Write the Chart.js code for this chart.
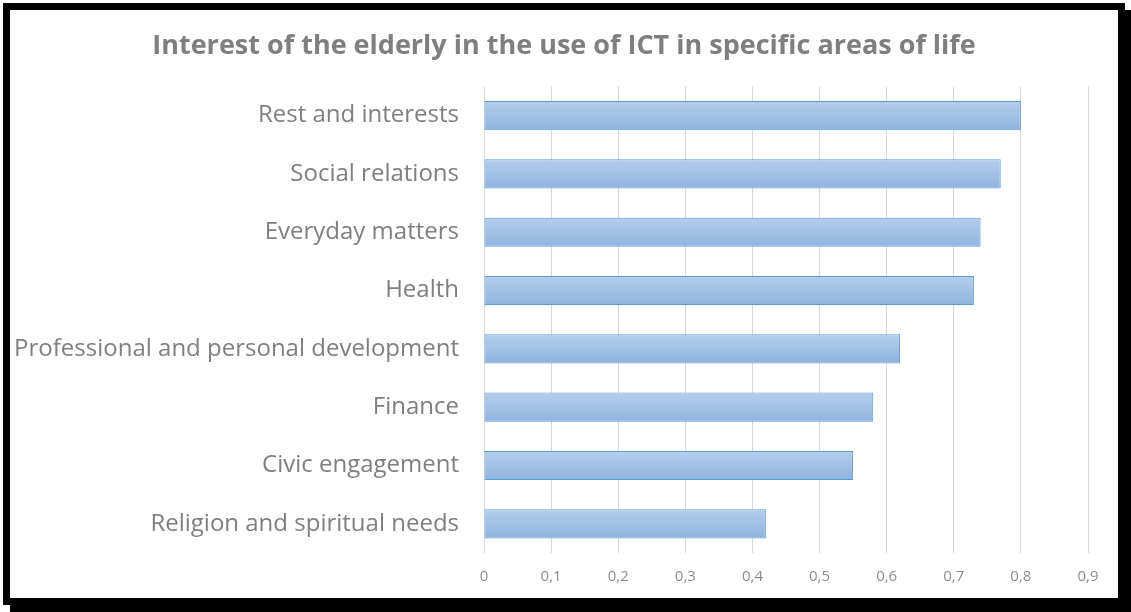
<!DOCTYPE html>
<html>
<head>
<meta charset="utf-8">
<script src="https://cdn.jsdelivr.net/npm/chart.js@4/dist/chart.umd.min.js"></script>
<style>
  html, body { margin: 0; padding: 0; background: #ffffff; }
  body { width: 1131px; height: 612px; position: relative; overflow: hidden; }
  #frame {
    position: absolute; left: 3px; top: 3px;
    width: 1108px; height: 588px;
    border: 7px solid #000;
    box-shadow: 7px 7px 0 #000;
    background: #fff;
  }
  #frame canvas { display: block; }
</style>
</head>
<body>
<div id="frame"><canvas id="chart" width="1108" height="588"></canvas></div>
<script>
// Areas of life, listed top to bottom
const categories = [
  'Rest and interests',
  'Social relations',
  'Everyday matters',
  'Health',
  'Professional and personal development',
  'Finance',
  'Civic engagement',
  'Religion and spiritual needs'
];
// Share of respondents interested in using ICT in each area
const interest = [0.80, 0.77, 0.74, 0.73, 0.62, 0.58, 0.55, 0.42];
// Value axis range and step
const axisMin = 0;
const axisMax = 0.9;
const axisStep = 0.1;

const titleText = 'Interest of the elderly in the use of ICT in specific areas of life';
const FONT = '"Open Sans", Lato, sans-serif';

// Vertical light-to-darker blue gradient across each bar's own thickness
function barFill(context) {
  const chart = context.chart;
  const yScale = chart.scales.y;
  if (!chart.chartArea || !yScale || context.dataIndex === undefined) return '#a4c2e6';
  const cy = yScale.getPixelForValue(context.dataIndex);
  const band = yScale.height / categories.length;
  const h = band * 0.5;
  const g = chart.ctx.createLinearGradient(0, cy - h / 2, 0, cy + h / 2);
  g.addColorStop(0, '#b5ceeb');
  g.addColorStop(1, '#8fb3e0');
  return g;
}

new Chart(document.getElementById('chart'), {
  type: 'bar',
  data: {
    labels: categories,
    datasets: [{
      data: interest,
      backgroundColor: barFill,
      borderColor: '#5b9bd5',
      borderWidth: 1,
      borderSkipped: false,
      categoryPercentage: 1.0,
      barPercentage: 0.5
    }]
  },
  options: {
    indexAxis: 'y',
    responsive: false,
    animation: false,
    layout: { padding: { left: 0, right: 0, top: 0, bottom: 12 } },
    plugins: {
      legend: { display: false },
      tooltip: { enabled: false },
      title: {
        display: true,
        text: titleText,
        color: '#7f7f7f',
        font: { family: FONT, size: 27, weight: 'bold' },
        padding: { top: 20, bottom: 24 }
      }
    },
    scales: {
      x: {
        min: axisMin,
        max: axisMax,
        border: { display: false },
        grid: { color: '#d9d9d9', lineWidth: 1, drawTicks: false },
        afterFit: s => { s.height = 33; s.paddingLeft = 0; s.paddingRight = 0; },
        ticks: {
          stepSize: axisStep,
          padding: 15,
          color: '#8c8c8c',
          font: { family: FONT, size: 15 },
          callback: v => (v === 0 ? '0' : v.toFixed(1).replace('.', ','))
        }
      },
      y: {
        border: { display: false },
        grid: { display: false, drawTicks: false },
        afterFit: s => { s.width = 474; s.paddingTop = 0; s.paddingBottom = 0; },
        ticks: {
          padding: 25,
          color: '#7f7f7f',
          font: { family: FONT, size: 24 }
        }
      },
      // empty right-hand margin beside the plot area
      yRight: {
        type: 'category',
        position: 'right',
        border: { display: false },
        grid: { display: false, drawTicks: false },
        ticks: { display: false },
        afterFit: s => { s.width = 30; s.paddingTop = 0; s.paddingBottom = 0; }
      }
    }
  }
});
</script>
</body>
</html>
